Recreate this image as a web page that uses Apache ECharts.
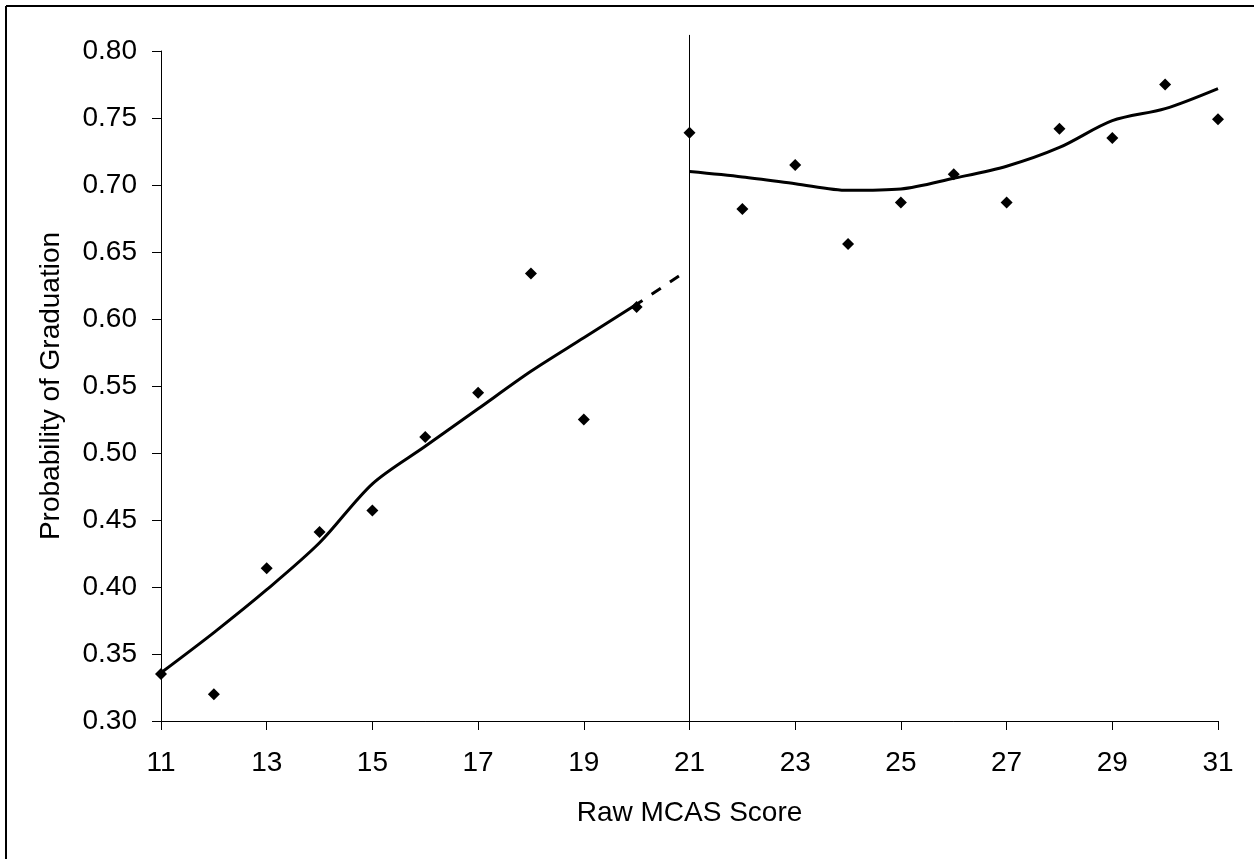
<!DOCTYPE html>
<html>
<head>
<meta charset="utf-8">
<script src="https://cdn.jsdelivr.net/npm/echarts@6/dist/echarts.min.js"></script>
<style>
html,body{margin:0;padding:0;background:#fff;}
#chart{width:1254px;height:859px;}
</style>
</head>
<body>
<div id="chart"></div>
<script>
// Observed points (raw MCAS score vs probability of graduation)
const scoresLeft = [11, 12, 13, 14, 15, 16, 17, 18, 19, 20];
const probLeft = [0.335, 0.320, 0.414, 0.441, 0.457, 0.512, 0.545, 0.634, 0.525, 0.609];
const scoresRight = [21, 22, 23, 24, 25, 26, 27, 28, 29, 30, 31];
const probRight = [0.739, 0.682, 0.715, 0.656, 0.687, 0.708, 0.687, 0.742, 0.735, 0.775, 0.749];

// Fitted (smoothed) curves
const fitLeftX = [11, 12, 13, 14, 15, 16, 17, 18, 19, 20];
const fitLeftY = [0.336, 0.366, 0.398, 0.433, 0.477, 0.505, 0.533, 0.561, 0.586, 0.611];
const extX = [20, 20.8];
const extY = [0.611, 0.632];
const fitRightX = [21, 22, 23, 24, 25, 26, 27, 28, 29, 30, 31];
const fitRightY = [0.710, 0.706, 0.701, 0.696, 0.697, 0.705, 0.714, 0.728, 0.748, 0.757, 0.772];

// Cutoff line
const cutoffX = [21, 21];
const cutoffY = [0.30, 0.812];

const xTicks = {min: 11, max: 31, interval: 2};
const yTicks = {min: 0.30, max: 0.80, interval: 0.05};

const zip = (a, b) => a.map((v, i) => [v, b[i]]);
const FONT = 'Liberation Sans, Arial, sans-serif';

const chart = echarts.init(document.getElementById('chart'), null, {renderer: 'canvas'});
chart.setOption({
  animation: false,
  backgroundColor: '#fff',
  grid: {left: 161, right: 36, top: 51, bottom: 138, containLabel: false},
  graphic: [
    {type: 'line', shape: {x1: 6, y1: 6, x2: 1254, y2: 6}, style: {stroke: '#000', lineWidth: 2}},
    {type: 'line', shape: {x1: 6, y1: 6, x2: 6, y2: 859}, style: {stroke: '#000', lineWidth: 2}}
  ],
  xAxis: {
    type: 'value', min: xTicks.min, max: xTicks.max, interval: xTicks.interval,
    name: 'Raw MCAS Score', nameLocation: 'middle', nameGap: 78,
    nameTextStyle: {fontFamily: FONT, fontSize: 28, color: '#000'},
    axisLine: {lineStyle: {color: '#000', width: 1}},
    axisTick: {show: true, length: 9, lineStyle: {color: '#000'}},
    axisLabel: {fontFamily: FONT, fontSize: 28, color: '#000', margin: 28},
    splitLine: {show: false}
  },
  yAxis: {
    type: 'value', min: yTicks.min, max: yTicks.max, interval: yTicks.interval,
    name: 'Probability of Graduation', nameLocation: 'middle', nameGap: 96,
    nameTextStyle: {fontFamily: FONT, fontSize: 28, color: '#000'},
    axisLine: {show: true, lineStyle: {color: '#000', width: 1}},
    axisTick: {show: true, length: 9, lineStyle: {color: '#000'}},
    axisLabel: {fontFamily: FONT, fontSize: 28, color: '#000', margin: 24,
      formatter: v => v.toFixed(2)},
    splitLine: {show: false}
  },
  series: [
    {
      type: 'line', data: zip(cutoffX, cutoffY), symbol: 'none', clip: false,
      lineStyle: {color: '#000', width: 1}, z: 1, silent: true
    },
    {
      type: 'line', data: zip(fitLeftX, fitLeftY), symbol: 'none', smooth: 0.3,
      lineStyle: {color: '#000', width: 3}, z: 2
    },
    {
      type: 'line', data: zip(extX, extY), symbol: 'none',
      lineStyle: {color: '#000', width: 3, type: [11, 11], dashOffset: 4}, z: 2
    },
    {
      type: 'line', data: zip(fitRightX, fitRightY), symbol: 'none', smooth: 0.3,
      lineStyle: {color: '#000', width: 3}, z: 2
    },
    {
      type: 'scatter', data: zip(scoresLeft, probLeft).concat(zip(scoresRight, probRight)),
      symbol: 'diamond', symbolSize: 12, itemStyle: {color: '#000', opacity: 1}, z: 3, clip: false
    }
  ]
});
</script>
</body>
</html>
